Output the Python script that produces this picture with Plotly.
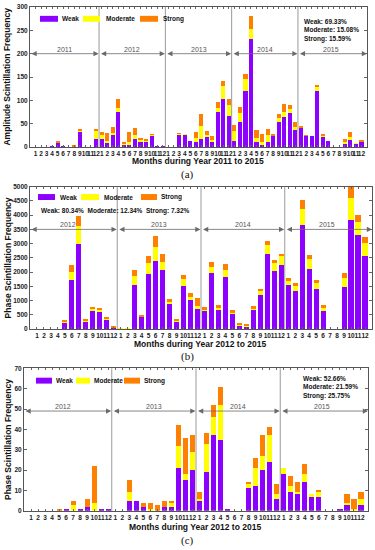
import plotly.graph_objects as go

# ---------------- DATA ----------------
month_labels = [str(m) for m in range(1, 13)]

years_a = ["2011", "2012", "2013", "2014", "2015"]
years_bc = ["2012", "2013", "2014", "2015"]

# (a) Amplitude scintillation, Jan 2011 - Dec 2015
amp_weak = [0, 0, 0, 2, 11, 2, 0, 2, 34, 0, 0, 18,
            18, 11, 27, 75, 5, 5, 18, 12, 12, 26, 2, 2,
            0, 0, 28, 27, 13, 11, 18, 21, 12, 75, 102, 66,
            13, 53, 120, 231, 10, 5, 12, 24, 53, 65, 74, 37,
            42, 25, 24, 120, 23, 13, 0, 0, 8, 17, 7, 13]
amp_mod = [0, 0, 0, 0, 0, 0, 0, 0, 1, 0, 0, 16,
           8, 3, 3, 9, 3, 7, 7, 4, 2, 1, 0, 0,
           0, 0, 1, 1, 0, 9, 28, 6, 4, 9, 28, 25,
           21, 21, 26, 21, 9, 7, 15, 2, 10, 10, 7, 7,
           1, 0, 0, 9, 3, 0, 0, 0, 2, 4, 1, 0]
amp_str = [0, 0, 0, 0, 1, 0, 0, 1, 2, 0, 0, 5,
           6, 16, 14, 20, 4, 21, 15, 4, 3, 1, 0, 0,
           0, 0, 1, 0, 0, 12, 25, 8, 7, 13, 11, 13,
           14, 12, 10, 29, 17, 16, 12, 3, 7, 18, 9, 10,
           1, 1, 0, 3, 2, 0, 0, 0, 7, 11, 0, 1]

# (b) Phase scintillation, Jan 2012 - Dec 2015
ph_weak = [0, 0, 0, 0, 240, 1730, 2980, 265, 650, 600, 340, 80,
           15, 15, 1560, 440, 1930, 2390, 2090, 880, 280, 1530, 1015, 690,
           650, 1975, 670, 1820, 530, 150, 115, 690, 1210, 2620, 2055, 2250,
           1560, 1330, 3670, 2110, 1420, 635, 10, 10, 1480, 3845, 3290, 2575]
ph_mod = [0, 0, 0, 0, 25, 290, 635, 45, 70, 80, 50, 0,
          5, 5, 300, 30, 400, 500, 280, 100, 50, 230, 115, 130,
          60, 220, 80, 255, 80, 30, 30, 60, 150, 320, 255, 300,
          140, 170, 555, 345, 200, 150, 5, 5, 310, 750, 475, 440]
ph_str = [0, 0, 0, 0, 35, 230, 345, 35, 60, 70, 40, 20,
          0, 0, 220, 30, 240, 380, 250, 70, 40, 150, 135, 280,
          70, 150, 80, 210, 60, 30, 30, 60, 60, 150, 115, 80,
          100, 115, 290, 140, 90, 60, 0, 0, 175, 380, 240, 220]

# (c) Phase scintillation (second set), Jan 2012 - Dec 2015
c_weak = [0, 0, 0, 0, 0, 1, 0, 1, 2, 0, 1, 1,
          0, 0, 5, 5, 2, 0, 0, 2, 2, 21, 15, 20,
          5, 19, 37, 35, 1, 0, 0, 11, 12, 20, 24, 6,
          18, 9, 8, 14, 7, 7, 0, 0, 1, 3, 0, 3]
c_mod = [0, 0, 0, 0, 0, 0, 3, 0, 0, 4, 0, 0,
         0, 0, 4, 0, 0, 1, 0, 0, 2, 11, 3, 9,
         1, 14, 9, 17, 0, 0, 0, 2, 9, 7, 13, 2,
         3, 3, 1, 4, 1, 2, 0, 0, 0, 1, 1, 3]
c_str = [0, 0, 0, 0, 1, 0, 2, 0, 4, 18, 0, 0,
         0, 0, 6, 0, 2, 3, 3, 3, 1, 10, 18, 8,
         3, 5, 6, 9, 0, 0, 0, 1, 5, 10, 4, 5,
         0, 5, 5, 5, 0, 1, 0, 0, 0, 4, 5, 3]

pct_a = ["Weak: 69.33%", "Moderate: 15.08%", "Strong: 15.59%"]
pct_b = ["Weak: 80.34%", "Moderate: 12.34%", "Strong: 7.32%"]
pct_c = ["Weak: 52.66%", "Moderate: 21.59%", "Strong: 25.75%"]

series_names = ["Weak", "Moderate", "Strong"]
colors = ["#8B00FF", "#FFFF00", "#FF7F00"]

# ---------------- LAYOUT HELPERS ----------------
W, H = 375, 550
def PX(x): return x / W
def PY(y): return 1 - y / H

FONT = "Arial, Liberation Sans, sans-serif"

fig = go.Figure()

panels = [
    dict(ax="", series=[amp_weak, amp_mod, amp_str], years=years_a,
         xdom=(30, 367), ydom=(3, 145), yr=(0, 300), dtick=50,
         ytitle="Amplitude Scintillation Frequency",
         xtitle="Months during Year 2011 to 2015", tag="(a)",
         arrow_y=200, first_lbl=5.2, xt_y=159.5, xt_x=198, tag_y=173,
         leg=dict(y=15, rects=[(40, 58), (83, 100), (140, 158)], tx=[60, 104, 161]),
         pct=pct_a, pct_mode="col", pct_xy=(302, 16)),
    dict(ax="2", series=[ph_weak, ph_mod, ph_str], years=years_bc,
         xdom=(30, 372), ydom=(185, 329.3), yr=(0, 5000), dtick=500,
         ytitle="Phase Scintillation Frequency",
         xtitle="Months during Year 2012 to 2015", tag="(b)",
         arrow_y=3500, first_lbl=4.5, xt_y=344, xt_x=200, tag_y=357,
         leg=dict(y=195.5, rects=[(38, 55), (81, 99), (141, 157)], tx=[58, 102, 159]),
         pct=pct_b, pct_mode="row", pct_xy=(39, 208)),
    dict(ax="3", series=[c_weak, c_mod, c_str], years=years_bc,
         xdom=(24, 368), ydom=(369, 513.3), yr=(0, 70), dtick=10,
         ytitle="Phase Scintillation Frequency",
         xtitle="Months during Year 2012 to 2015", tag="(c)",
         arrow_y=49, first_lbl=4.5, xt_y=530, xt_x=195, tag_y=543,
         leg=dict(y=381.5, rects=[(36, 52), (76, 90), (124, 140)], tx=[54, 92, 142]),
         pct=pct_c, pct_mode="col", pct_xy=(301, 378)),
]

layout_axes = {}
shapes = []
annotations = []

for p in panels:
    ax = p["ax"]
    xname, yname = "x" + ax, "y" + ax
    n = len(p["series"][0])
    xs = list(range(n))
    for vals, name, col in zip(p["series"], series_names, colors):
        fig.add_trace(go.Bar(x=xs, y=vals, name=name, marker=dict(color=col, line=dict(width=0)),
                             width=0.74, xaxis=xname, yaxis=yname, showlegend=False))
    nyears = len(p["years"])
    ticktext = month_labels * nyears
    layout_axes["xaxis" + ax] = dict(
        domain=[PX(p["xdom"][0]), PX(p["xdom"][1])], anchor=yname,
        range=[-1, n], tickmode="array", tickvals=xs, ticktext=ticktext,
        tickangle=0, tickfont=dict(size=6.5, family=FONT, color="#222", weight="bold"),
        ticks="inside", ticklen=2, tickcolor="#666", mirror="allticks",
        showline=True, linecolor="#555", linewidth=1, showgrid=False, zeroline=False,
        fixedrange=True)
    layout_axes["yaxis" + ax] = dict(
        domain=[PY(p["ydom"][1]), PY(p["ydom"][0])], anchor=xname,
        range=list(p["yr"]), dtick=p["dtick"], tick0=0,
        tickfont=dict(size=6.5, family=FONT, color="#222", weight="bold"),
        ticks="inside", ticklen=3, tickcolor="#666", mirror="allticks",
        showline=True, linecolor="#555", linewidth=1, showgrid=False, zeroline=False,
        fixedrange=True)

    # year dividers
    bounds = [-1] + [12 * k - 0.5 for k in range(1, nyears)] + [n]
    for b in bounds[1:-1]:
        shapes.append(dict(type="line", xref=xname, yref=yname + " domain",
                           x0=b, x1=b, y0=0, y1=1, line=dict(color="#9a9a9a", width=1)))
    # year arrows and labels
    for k, yr in enumerate(p["years"]):
        x0 = bounds[k] + (0.08 if k > 0 else 0)
        x1 = bounds[k + 1] - (0.08 if k < nyears - 1 else 0)
        annotations.append(dict(x=x1, y=p["arrow_y"], ax=x0, ay=p["arrow_y"],
                                xref=xname, yref=yname, axref=xname, ayref=yname,
                                text="", showarrow=True, arrowhead=2, arrowside="end+start",
                                arrowsize=1.3, arrowwidth=0.8, arrowcolor="#6a6a6a",
                                standoff=0, startstandoff=0))
        cx = p["first_lbl"] if k == 0 else 12 * k + 5.5
        annotations.append(dict(x=cx, y=p["arrow_y"], xref=xname, yref=yname,
                                text=yr, showarrow=False, yanchor="bottom", yshift=-1,
                                font=dict(size=7, family=FONT, color="#555")))

    # axis titles
    annotations.append(dict(x=PX(p["xt_x"]), y=PY(p["xt_y"]),
                            xref="paper", yref="paper", showarrow=False,
                            text=p["xtitle"], xanchor="center", yanchor="middle",
                            font=dict(size=8.5, family=FONT, color="#111", weight="bold")))
    annotations.append(dict(x=PX(7.5), y=PY((p["ydom"][0] + p["ydom"][1]) / 2),
                            xref="paper", yref="paper", showarrow=False, textangle=-90,
                            text=p["ytitle"], xanchor="center", yanchor="middle",
                            font=dict(size=8.5, family=FONT, color="#111", weight="bold")))
    annotations.append(dict(x=PX(187), y=PY(p["tag_y"]), xref="paper", yref="paper",
                            showarrow=False, text=p["tag"], xanchor="center", yanchor="middle",
                            font=dict(size=11, family="Liberation Serif, Times New Roman, serif",
                                      color="#111")))

    # legend drawn as swatches + labels
    lg = p["leg"]
    for (r0, r1), tx, name, col in zip(lg["rects"], lg["tx"], series_names, colors):
        shapes.append(dict(type="rect", xref="paper", yref="paper",
                           x0=PX(r0), x1=PX(r1), y0=PY(lg["y"] + 3), y1=PY(lg["y"] - 3),
                           fillcolor=col, line=dict(width=0)))
        annotations.append(dict(x=PX(tx), y=PY(lg["y"]), xref="paper", yref="paper",
                                showarrow=False, text=name, xanchor="left", yanchor="middle",
                                font=dict(size=6.5, family=FONT, color="#111", weight="bold")))

    # percentage text
    if p["pct_mode"] == "col":
        txt = "<br>".join(p["pct"])
    else:
        txt = "\u00a0\u00a0".join(p["pct"])
    annotations.append(dict(x=PX(p["pct_xy"][0]), y=PY(p["pct_xy"][1] - 4), xref="paper", yref="paper",
                            showarrow=False, text=txt, xanchor="left", yanchor="top", align="left",
                            font=dict(size=6.5, family=FONT, color="#111", weight="bold")))

fig.update_layout(
    width=W, height=H, margin=dict(l=0, r=0, t=0, b=0),
    paper_bgcolor="white", plot_bgcolor="white",
    barmode="stack", showlegend=False,
    font=dict(family=FONT),
    shapes=shapes, annotations=annotations,
    **layout_axes,
)

# remove the browser's default 8px body margin so the 375x550 figure fills the window
fig.write_html("out.html", config={"displayModeBar": False},
               post_script="document.body.style.margin='0px';")
